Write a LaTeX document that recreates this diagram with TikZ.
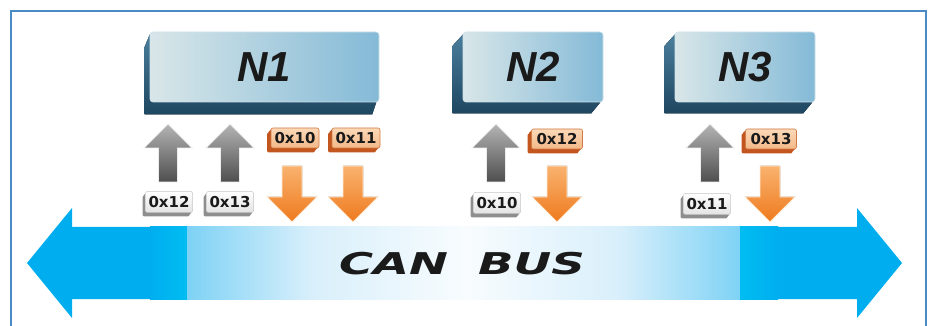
\documentclass[tikz,border=0pt]{standalone}
\usepackage{fontspec}
\setmainfont{Liberation Sans}
\newfontfamily\lblfont{DejaVu Sans}
\usetikzlibrary{calc,backgrounds,shadows}
\definecolor{framec}{HTML}{4A8AC6}
\definecolor{busc}{HTML}{00AEEF}
\definecolor{busb}{HTML}{00BDF1}
\definecolor{busm}{HTML}{7ED2F5}
\definecolor{busl}{HTML}{D8EFFB}
\definecolor{busw}{HTML}{F8FCFE}
\definecolor{faceL}{HTML}{D8E6E8}
\definecolor{faceR}{HTML}{84BAD7}
\definecolor{faceE}{HTML}{CFE2EA}
\definecolor{extrT}{HTML}{4A7E9C}
\definecolor{extrB}{HTML}{1E4660}
\definecolor{gTop}{HTML}{B4B4B4}
\definecolor{gBot}{HTML}{4E4E4E}
\definecolor{oTop}{HTML}{F9B26E}
\definecolor{oBot}{HTML}{EE7A1E}
\definecolor{gshade}{HTML}{8E8E8E}
\definecolor{oshade}{HTML}{C2561E}
\definecolor{oedge}{HTML}{D27A45}
\definecolor{olTop}{HTML}{FBD9B8}
\definecolor{olBot}{HTML}{F3B888}
\definecolor{txt}{HTML}{1A1A1A}
\tikzset{
  nodeface/.style={rectangle, rounded corners=3pt, left color=faceL, right color=faceR,
    draw=faceE, line width=0.6pt, minimum height=70pt, inner sep=0pt, text=txt,
    font=\fontsize{42}{42}\selectfont\bfseries\itshape},
  extr/.style={top color=extrT, bottom color=extrB},
  glabel/.style={rectangle, rounded corners=2pt, minimum width=47pt, minimum height=21pt,
    inner sep=0pt, top color=white, bottom color=gray!22, draw=gray!45, line width=0.5pt,
    text=txt, font=\lblfont\fontsize{15}{15}\selectfont\bfseries,
    general shadow={shadow xshift=-1pt,shadow yshift=-1.3pt,fill=gshade},
    general shadow={shadow xshift=-2pt,shadow yshift=-2.6pt,fill=gshade},
    general shadow={shadow xshift=-3pt,shadow yshift=-4pt,fill=gshade}},
  olabel/.style={rectangle, rounded corners=2pt, minimum width=48pt, minimum height=20pt,
    inner sep=0pt, top color=olTop, bottom color=olBot, draw=oedge, line width=0.6pt,
    text=txt, font=\lblfont\fontsize{15}{15}\selectfont\bfseries,
    general shadow={shadow xshift=-1.3pt,shadow yshift=-1.3pt,fill=oshade},
    general shadow={shadow xshift=-2.6pt,shadow yshift=-2.6pt,fill=oshade},
    general shadow={shadow xshift=-4pt,shadow yshift=-4.5pt,fill=oshade}},
  garrow/.style={top color=gTop, bottom color=gBot, draw=gray!15, line width=0.8pt},
  oarrow/.style={top color=oTop, bottom color=oBot, draw=orange!15, line width=0.8pt},
}
\begin{document}
\begin{tikzpicture}[x=1pt,y=-1pt]
\useasboundingbox (0,0) rectangle (930,326);
% frame
\draw[framec, line width=1.6pt] (11,340) -- (11,11) -- (926,11) -- (926,340);
% CAN bus arrow
\fill[busc] (27,263) -- (72,208) -- (72,227) -- (857,227) -- (857,208) -- (902,263)
  -- (857,318) -- (857,299) -- (72,299) -- (72,318) -- cycle;
\fill[left color=busc, right color=busb] (150,227) rectangle (187.5,299);
\fill[left color=busm, right color=busl] (187,227) rectangle (310.5,299);
\fill[left color=busl, right color=busw] (310,227) rectangle (465.5,299);
\fill[left color=busw, right color=busl] (465,227) rectangle (620.5,299);
\fill[left color=busl, right color=busm] (620,227) rectangle (740.5,299);
\fill[left color=busb, right color=busc] (740,227) rectangle (778,299);
\node[text=txt, font=\lblfont\fontsize{30}{30}\selectfont\bfseries\itshape, xscale=1.55, inner sep=0pt]
  (bus) at (462,264) {CAN \hspace{9pt}BUS};
% node boxes
\node[nodeface, minimum width=229pt] (N1) at (264.5,67) {N1};
\node[nodeface, minimum width=140pt] (N2) at (533,67) {N2};
\node[nodeface, minimum width=140pt] (N3) at (745,67) {N3};
\begin{scope}[on background layer]
\fill[extr] ($(N1.north west)+(0,3)$) -- ++(-5,12) -- ($(N1.south west)+(-5,12)$)
  -- ($(N1.south east)+(-7,12)$) -- ($(N1.south east)+(-3,0)$) -- cycle;
\foreach \n in {N2,N3}
  \fill[extr] ($(\n.north west)+(0,3)$) -- ++(-10,11) -- ($(\n.south west)+(-10,11)$)
    -- ($(\n.south east)+(-12,11)$) -- ($(\n.south east)+(-3,0)$) -- cycle;
\end{scope}
% gray up arrows
\foreach \c in {168,230,496,710}
  \filldraw[garrow] (\c,124) -- (\c+24,148) -- (\c+9.5,148) -- (\c+9.5,182)
    -- (\c-9.5,182) -- (\c-9.5,148) -- (\c-24,148) -- cycle;
% orange down arrows
\foreach \c in {292,353,557,770}
  \filldraw[oarrow] (\c-10,166) -- (\c+10,166) -- (\c+10,197) -- (\c+25,197)
    -- (\c,222) -- (\c-25,197) -- (\c-10,197) -- cycle;
% labels
\node[glabel] (g1) at (169,202) {0x12};
\node[glabel] (g2) at (230,202) {0x13};
\node[glabel] (g3) at (497,203) {0x10};
\node[glabel] (g4) at (707,204) {0x11};
\node[olabel] (o1) at (295,138) {0x10};
\node[olabel] (o2) at (356,138) {0x11};
\node[olabel, minimum width=51pt] (o3) at (557,139) {0x12};
\node[olabel, minimum width=51pt] (o4) at (771,139) {0x13};
\end{tikzpicture}
\end{document}
